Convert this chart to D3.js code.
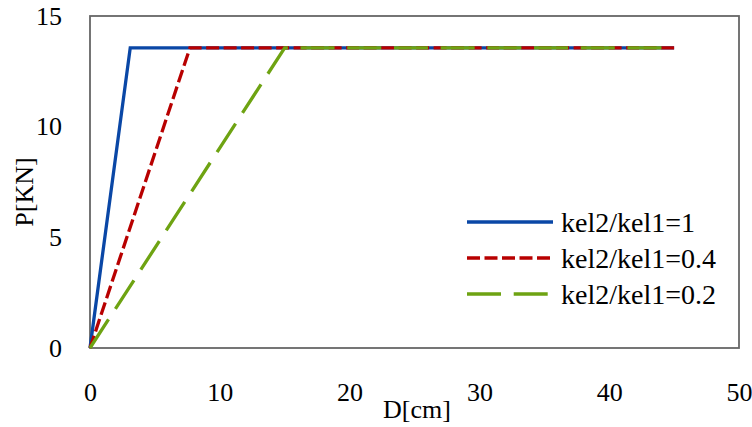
<!DOCTYPE html>
<html>
<head>
<meta charset="utf-8">
<script src="https://cdn.jsdelivr.net/npm/d3@7"></script>
<style>
	body { margin: 0; background: #fff; }
</style>
</head>
<body>
<svg width="752" height="427"></svg>
<script>
// values: D[cm] vs P[KN]
var seriesNames = ["kel2/kel1=1", "kel2/kel1=0.4", "kel2/kel1=0.2"]
var dValues = [
	[0, 3.1, 45],
	[0, 7.7, 45.2],
	[0, 15.0, 45]
]
var pValues = [
	[0, 13.56, 13.56],
	[0, 13.56, 13.56],
	[0, 13.56, 13.56]
]
var xTicks = [0, 10, 20, 30, 40, 50]
var yTicks = [0, 5, 10, 15]

var colors = ["#0a47a6", "#b80000", "#6ea312"]
var dashes = [null, "13,4.5", "34,12.7"]
var serif = "'Times New Roman', 'Liberation Serif', serif"

var svg = d3.select("svg"),
	width = +svg.attr("width"),
	height = +svg.attr("height")

var padL = 90, padR = 739, padT = 16, padB = 348

var x = d3.scaleLinear().domain([0, 50]).range([padL, padR])
var y = d3.scaleLinear().domain([0, 15]).range([padB, padT])

// plot frame
svg.append("rect")
	.attr("x", padL).attr("y", padT)
	.attr("width", padR - padL).attr("height", padB - padT)
	.attr("fill", "none")
	.attr("stroke", "#666")
	.attr("stroke-width", 1.8)

// axes, labels only
var xAxis = svg.append("g")
	.attr("transform", "translate(0," + padB + ")")
	.call(d3.axisBottom(x).tickValues(xTicks).tickSize(0).tickPadding(35))
xAxis.select(".domain").remove()
xAxis.selectAll("text").style("font-size", "26px").style("font-family", serif).attr("fill", "#000")

var yAxis = svg.append("g")
	.attr("transform", "translate(" + padL + ",0)")
	.call(d3.axisLeft(y).tickValues(yTicks).tickSize(0).tickPadding(28))
yAxis.select(".domain").remove()
yAxis.selectAll("text").style("font-size", "26px").style("font-family", serif).attr("fill", "#000")

svg.append("text")
	.attr("x", 417).attr("y", 418)
	.attr("text-anchor", "middle")
	.style("font-size", "26px").style("font-family", serif)
	.text("D[cm]")

svg.append("text")
	.attr("transform", "translate(33,192) rotate(-90)")
	.attr("text-anchor", "middle")
	.style("font-size", "26px").style("font-family", serif)
	.text("P[KN]")

// series lines
var line = d3.line()
	.x(function(d){ return x(d[0]) })
	.y(function(d){ return y(d[1]) })

seriesNames.forEach(function(name, i){
	var pts = dValues[i].map(function(dv, j){ return [dv, pValues[i][j]] })
	svg.append("path")
		.datum(pts)
		.attr("d", line)
		.attr("fill", "none")
		.attr("stroke", colors[i])
		.attr("stroke-width", 3.3)
		.attr("stroke-dasharray", dashes[i])
})

// legend
var legend = svg.append("g").attr("transform", "translate(467,222)")
seriesNames.forEach(function(name, i){
	var g = legend.append("g").attr("transform", "translate(0," + (i * 36) + ")")
	g.append("line")
		.attr("x1", 0).attr("x2", 86)
		.attr("y1", 0).attr("y2", 0)
		.attr("stroke", colors[i])
		.attr("stroke-width", 3.5)
		.attr("stroke-dasharray", dashes[i])
	g.append("text")
		.attr("x", 94).attr("y", 10)
		.style("font-size", "28px").style("font-family", serif)
		.text(name)
})
</script>
</body>
</html>
